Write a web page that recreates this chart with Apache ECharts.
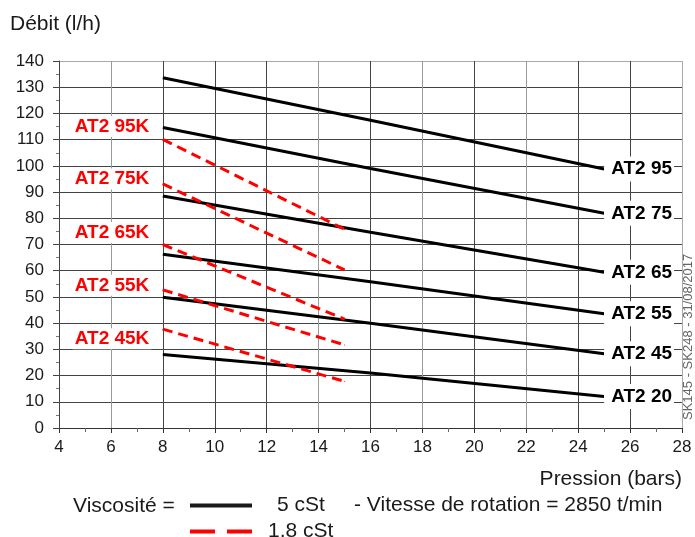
<!DOCTYPE html>
<html>
<head>
<meta charset="utf-8">
<script src="https://cdn.jsdelivr.net/npm/echarts@6/dist/echarts.min.js"></script>
<style>
  html, body { margin: 0; padding: 0; background: #fff; }
  #chart { width: 695px; height: 537px; }
</style>
</head>
<body>
<div id="chart"></div>
<script>
// ---- data ----
const blackNames = ['AT2 95', 'AT2 75', 'AT2 65', 'AT2 55', 'AT2 45', 'AT2 20'];
const blackPressure = [8, 16, 25];
const blackFlow95 = [133.6, 117.4, 98.8];
const blackFlow75 = [114.6, 99.0, 81.9];
const blackFlow65 = [88.5, 74.7, 59.4];
const blackFlow55 = [66.3, 55.8, 43.6];
const blackFlow45 = [49.9, 40.0, 28.3];
const blackFlow20 = [28.0, 21.0, 12.0];
const blackFlows = [blackFlow95, blackFlow75, blackFlow65, blackFlow55, blackFlow45, blackFlow20];

const redNames = ['AT2 95K', 'AT2 75K', 'AT2 65K', 'AT2 55K', 'AT2 45K'];
const redPressure = [8, 15];
const redFlow95 = [110.1, 75.8];
const redFlow75 = [93.1, 60.3];
const redFlow65 = [70.0, 41.5];
const redFlow55 = [52.7, 31.7];
const redFlow45 = [37.7, 17.8];
const redFlows = [redFlow95, redFlow75, redFlow65, redFlow55, redFlow45];

const xTickLabels = [4, 6, 8, 10, 12, 14, 16, 18, 20, 22, 24, 26, 28];

// ---- styling ----
const FONT = 'Liberation Sans, Arial, sans-serif';
const TXT = '#1a1a1a';
const redLabelDy = [-13, -5, -12, -4.5, 9.5];
const vGridColors = ['#333', '#999', '#444', '#444', '#444', '#999', '#444', '#999', '#444', '#999', '#444', '#444', '#aaa'];
const hGridColors = ['#333', '#444', '#444', '#444', '#444', '#444', '#444', '#444', '#444', '#444', '#444', '#444', '#444', '#444', '#aaa'];

const series = [];
blackFlows.forEach((flow, i) => {
  series.push({
    name: '5 cSt',
    type: 'line',
    symbol: 'none',
    silent: true,
    z: 3,
    lineStyle: { color: '#000', width: 3 },
    itemStyle: { color: '#000' },
    data: blackPressure.map((p, k) => [p, flow[k]]),
    endLabel: {
      show: true,
      formatter: blackNames[i],
      distance: 0,
      fontFamily: FONT,
      fontSize: 19,
      fontWeight: 'bold',
      color: '#000',
      backgroundColor: '#fff',
      padding: [3, 2, 3, 7]
    }
  });
});
redFlows.forEach((flow, i) => {
  series.push({
    name: '1,8 cSt',
    type: 'line',
    symbol: 'circle',
    symbolSize: 1,
    showSymbol: true,
    silent: true,
    z: 4,
    lineStyle: { color: '#ff0000', width: 3, type: [10, 6] },
    itemStyle: { color: '#ff0000' },
    data: redPressure.map((p, k) => {
      const item = { value: [p, flow[k]] };
      if (k === 0) {
        item.label = {
          show: true,
          formatter: redNames[i],
          position: 'left',
          distance: 11,
          offset: [0, redLabelDy[i]],
          fontFamily: FONT,
          fontSize: 19,
          fontWeight: 'bold',
          color: '#ff0000',
          backgroundColor: '#fff',
          padding: [1, 2]
        };
      }
      return item;
    })
  });
});

const chart = echarts.init(document.getElementById('chart'), null, { renderer: 'canvas' });
chart.setOption({
  animation: false,
  backgroundColor: '#fff',
  textStyle: { fontFamily: FONT },
  title: [
    { text: 'Débit (l/h)', left: 5, top: 9,
      textStyle: { fontFamily: FONT, fontSize: 21, fontWeight: 'normal', color: TXT } },
    { text: 'Pression (bars)', right: 8, top: 464,
      textStyle: { fontFamily: FONT, fontSize: 21, fontWeight: 'normal', color: TXT } },
    { text: 'Viscosité =', left: 68, top: 491,
      textStyle: { fontFamily: FONT, fontSize: 21, fontWeight: 'normal', color: TXT } }
  ],
  legend: [
    {
      left: 190, top: 495, padding: 0,
      selectedMode: false,
      itemWidth: 62, itemHeight: 4,
      data: [{ name: '5 cSt', icon: 'path://M0,0h62v4h-62z', itemStyle: { color: '#1a1a1a' } }],
      formatter: () => '5 cSt     - Vitesse de rotation = 2850 t/min',
      textStyle: { fontFamily: FONT, fontSize: 21, color: TXT, padding: [0, 0, 0, 20] }
    },
    {
      left: 190, top: 521, padding: 0,
      selectedMode: false,
      itemWidth: 62, itemHeight: 4,
      data: [{ name: '1,8 cSt', icon: 'path://M0,0h25v4h-25z M37,0h25v4h-25z', itemStyle: { color: '#ff0000' } }],
      textStyle: { fontFamily: FONT, fontSize: 21, color: TXT, padding: [0, 0, 0, 11] }
    }
  ],
  grid: { left: 59, right: 13, top: 61, bottom: 109, containLabel: false },
  xAxis: {
    type: 'value',
    min: xTickLabels[0],
    max: xTickLabels[xTickLabels.length - 1],
    interval: 2,
    axisLine: { show: true, lineStyle: { color: '#333', width: 1 } },
    axisTick: { show: true, length: 5, lineStyle: { color: '#333' } },
    minorTick: { show: true, splitNumber: 2, length: 4, lineStyle: { color: '#666' } },
    splitLine: { show: true, lineStyle: { color: vGridColors, width: 1 } },
    axisLabel: { fontFamily: FONT, fontSize: 17, color: TXT, margin: 11 }
  },
  yAxis: {
    type: 'value',
    min: 0,
    max: 140,
    interval: 10,
    axisLine: { show: true, lineStyle: { color: '#444', width: 1 } },
    axisTick: { show: true, length: 6, lineStyle: { color: '#444' } },
    minorTick: { show: true, splitNumber: 2, length: 3, lineStyle: { color: '#777' } },
    splitLine: { show: true, lineStyle: { color: hGridColors, width: 1 } },
    axisLabel: { fontFamily: FONT, fontSize: 17, color: TXT, margin: 15 }
  },
  graphic: [
    {
      type: 'text',
      x: 682, y: 420,
      rotation: Math.PI / 2,
      silent: true,
      style: {
        text: 'SK145 - SK248 - 31/08/2017',
        fontFamily: FONT,
        fontSize: 13,
        fill: '#666',
        textAlign: 'left',
        textVerticalAlign: 'top'
      }
    }
  ],
  series: series
});
</script>
</body>
</html>
